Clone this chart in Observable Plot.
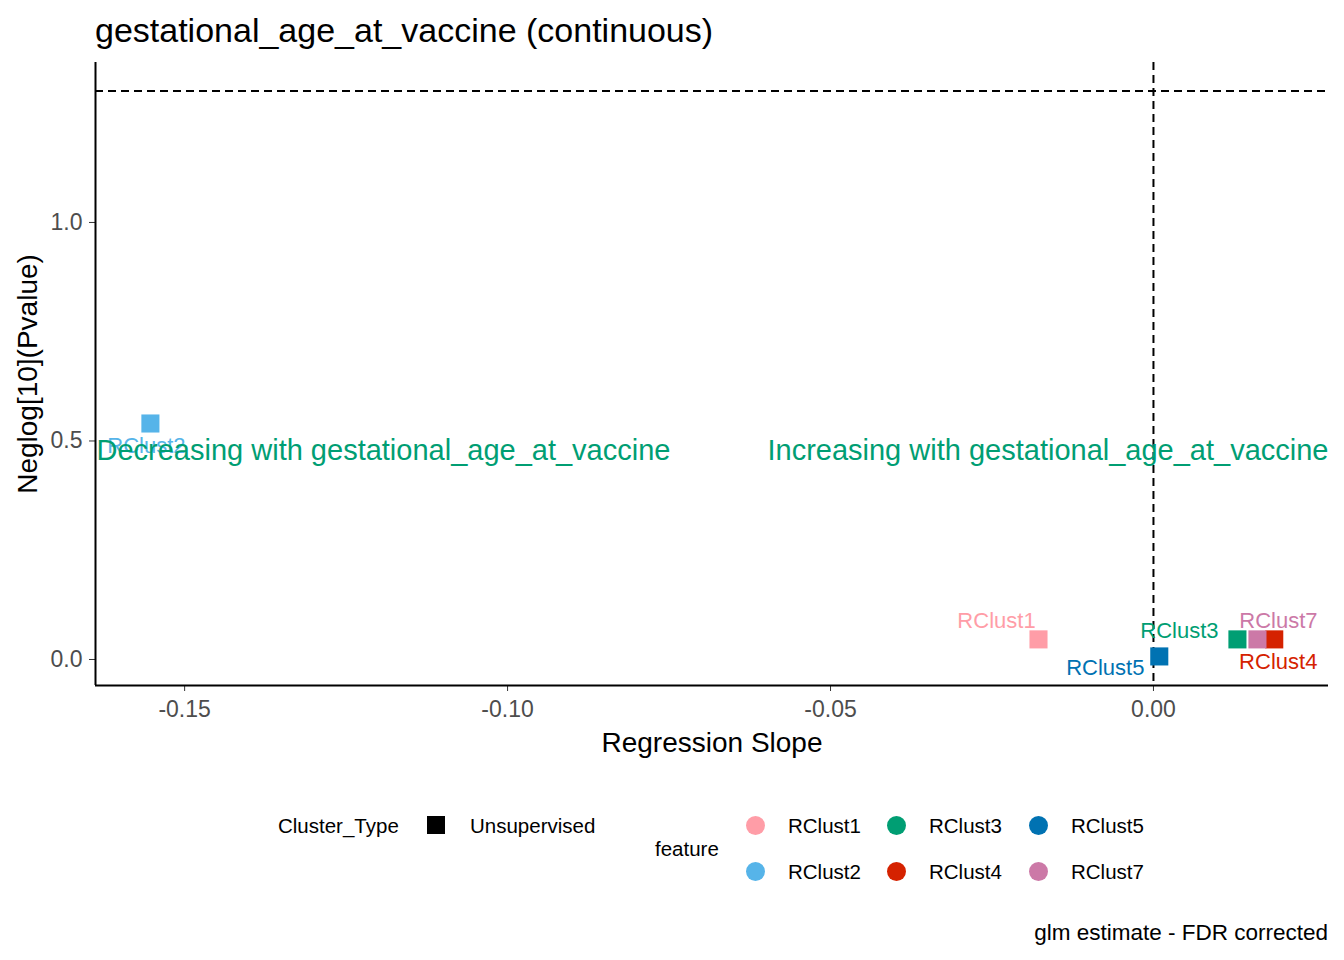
<!DOCTYPE html>
<html>
<head>
<meta charset="utf-8">
<script src="https://cdn.jsdelivr.net/npm/d3@7"></script>
<script src="https://cdn.jsdelivr.net/npm/@observablehq/plot@0.6"></script>
<style>
  html, body { margin: 0; padding: 0; background: #fff; }
  body { width: 1344px; height: 960px; position: relative; overflow: hidden;
         font-family: "Liberation Sans", Arial, sans-serif; }
  #chart { position: absolute; left: 0; top: 0; }
  #title { position: absolute; left: 95px; top: 10px; font-size: 34px; line-height: 40px; color: #000; white-space: nowrap; }
  #caption { position: absolute; right: 16px; top: 918px; font-size: 22.5px; line-height: 30px; color: #000; white-space: nowrap; }
  #legend { position: absolute; left: 0; top: 0; width: 1344px; height: 960px; pointer-events: none; }
  .lg { position: absolute; font-size: 20.5px; line-height: 24px; color: #000; white-space: nowrap; }
  [aria-label="x-axis tick label"], [aria-label="y-axis tick label"] { fill: #4d4d4d; }
  [aria-label="x-axis tick"], [aria-label="y-axis tick"] { stroke: #333; }
</style>
</head>
<body>
<div id="chart"></div>
<div id="title"></div>
<div id="legend"></div>
<div id="caption"></div>
<script>
// ---- data ----
const features = ["RClust1", "RClust2", "RClust3", "RClust4", "RClust5", "RClust7"];
const slopes = [-0.0178, -0.1553, 0.0130, 0.0187, 0.0009, 0.0161];
const neglogP = [0.046, 0.540, 0.046, 0.046, 0.007, 0.046];
const clusterTypes = ["Unsupervised", "Unsupervised", "Unsupervised", "Unsupervised", "Unsupervised", "Unsupervised"];
const featureColors = ["#FF9DA7", "#56B4E9", "#009E73", "#D52200", "#0072B2", "#CC79A7"];
const xTicks = [-0.15, -0.10, -0.05, 0.00];
const yTicks = [0.0, 0.5, 1.0];
const xDomain = [-0.1638, 0.0271];
const yDomain = [-0.0595, 1.366];
const vLine = [0];
const hLine = [-Math.log10(0.05)];
const annotations = ["Decreasing with gestational_age_at_vaccine", "Increasing with gestational_age_at_vaccine"];
const annotationY = [0.478];
const titleText = "gestational_age_at_vaccine (continuous)";
const xLabel = "Regression Slope";
const yLabel = "Neglog[10](Pvalue)";
const legendShapeTitle = "Cluster_Type";
const legendColorTitle = "feature";
const captionText = "glm estimate - FDR corrected";

// label offsets (pixels) for repelled labels
const labelOffsets = {
  RClust1: [-42, -18], RClust2: [-4, 22], RClust3: [-58, -8],
  RClust4: [4, 23], RClust5: [-54, 12], RClust7: [21, -18]
};

const data = features.map((f, i) => ({feature: f, slope: slopes[i], p: neglogP[i], type: clusterTypes[i]}));

const font = "Liberation Sans, Arial, sans-serif";

const labelMarks = data.map(d => Plot.text([d], {
  x: "slope", y: "p", text: "feature", fill: "feature",
  dx: labelOffsets[d.feature][0], dy: labelOffsets[d.feature][1],
  fontSize: 22, textAnchor: "middle"
}));

const chart = Plot.plot({
  width: 1344,
  height: 770,
  marginLeft: 95,
  marginRight: 16,
  marginTop: 62,
  marginBottom: 85,
  style: {fontFamily: font, background: "transparent", overflow: "visible"},
  x: {domain: xDomain},
  y: {domain: yDomain},
  color: {domain: features, range: featureColors},
  marks: [
    Plot.axisX({ticks: xTicks, tickFormat: d => d.toFixed(2), tickSize: 6, tickPadding: 9, fontSize: 23, label: null}),
    Plot.axisY({ticks: yTicks, tickFormat: d => d.toFixed(1), tickSize: 6, tickPadding: 7, fontSize: 23, label: null}),
    Plot.ruleX([xDomain[0]], {stroke: "#000", strokeWidth: 2}),
    Plot.ruleY([yDomain[0]], {stroke: "#000", strokeWidth: 2}),
    Plot.ruleX(vLine, {stroke: "#000", strokeWidth: 2, strokeDasharray: "8,5"}),
    Plot.ruleY(hLine, {stroke: "#000", strokeWidth: 2, strokeDasharray: "8,5"}),
    Plot.dot(data, {x: "slope", y: "p", fill: "feature", symbol: "square", r: 10.2, stroke: null}),
    ...labelMarks,
    Plot.text(annotationY, {y: d => d, text: () => annotations[0], frameAnchor: "left", textAnchor: "start", dx: 1, fill: "#009E73", fontSize: 29}),
    Plot.text(annotationY, {y: d => d, text: () => annotations[1], frameAnchor: "right", textAnchor: "end", fill: "#009E73", fontSize: 29}),
    Plot.text([xLabel], {frameAnchor: "bottom", dy: 66, fontSize: 28, fill: "#000"}),
    Plot.text([yLabel], {frameAnchor: "left", textAnchor: "middle", dx: -67, rotate: -90, fontSize: 28, fill: "#000"})
  ]
});
document.getElementById("chart").appendChild(chart);

document.getElementById("title").textContent = titleText;
document.getElementById("caption").textContent = captionText;

// ---- legend ----
const lg = document.getElementById("legend");
function addText(txt, left, cy) {
  const el = document.createElement("div");
  el.className = "lg"; el.textContent = txt;
  el.style.left = left + "px"; el.style.top = (cy - 12) + "px";
  lg.appendChild(el);
}
function addKey(shape, color, cx, cy, size) {
  const el = document.createElement("div");
  el.style.position = "absolute";
  el.style.width = size + "px"; el.style.height = size + "px";
  el.style.left = (cx - size / 2) + "px"; el.style.top = (cy - size / 2) + "px";
  el.style.background = color;
  if (shape === "circle") el.style.borderRadius = "50%";
  lg.appendChild(el);
}
addText(legendShapeTitle, 278, 826);
addKey("square", "#000", 436, 825, 18);
addText(clusterTypes[0], 470, 826);
addText(legendColorTitle, 655, 849);
const colX = [755, 896, 1038];
const rowY = [825, 871];
features.forEach((f, i) => {
  const c = Math.floor(i / 2), r = i % 2;
  addKey("circle", featureColors[i], colX[c], rowY[r], 19);
  addText(f, colX[c] + 33, rowY[r] + 1);
});
</script>
</body>
</html>
